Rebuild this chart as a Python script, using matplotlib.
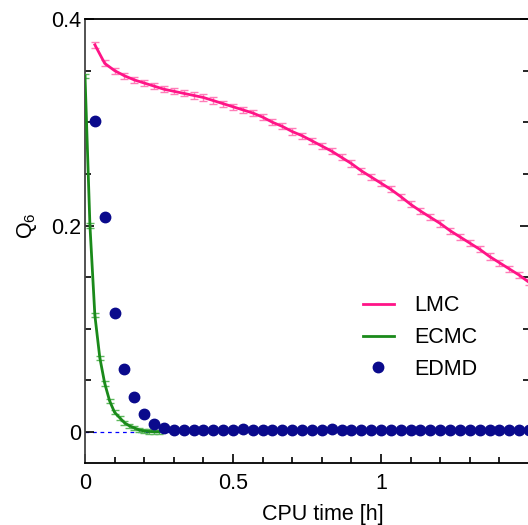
import numpy as np
import matplotlib
matplotlib.use('Agg')
import matplotlib.pyplot as plt
from matplotlib.lines import Line2D
from matplotlib.ticker import MultipleLocator

plt.rcParams['font.family'] = ['Liberation Sans', 'DejaVu Sans']
plt.rcParams['mathtext.default'] = 'regular'

# sampling grid: one measurement every 2 minutes (LMC, EDMD), every minute (ECMC)
t_lmc = np.arange(2, 92, 2) / 60
t_edmd = np.arange(2, 92, 2) / 60
t_ecmc = np.arange(0, 16) / 60

q6_lmc = [0.375, 0.357, 0.350, 0.345, 0.341, 0.338, 0.335, 0.332, 0.330, 0.328,
          0.326, 0.324, 0.321, 0.318, 0.315, 0.312, 0.309, 0.305, 0.300, 0.296,
          0.291, 0.287, 0.282, 0.277, 0.272, 0.266, 0.260, 0.253, 0.247, 0.241,
          0.235, 0.228, 0.2205, 0.214, 0.208, 0.202, 0.195, 0.189, 0.183, 0.177,
          0.170, 0.164, 0.158, 0.152, 0.145]
err_lmc = [0.003] * len(q6_lmc)

q6_ecmc = [0.345, 0.200, 0.113, 0.072, 0.047, 0.030, 0.019, 0.014, 0.009, 0.006,
           0.004, 0.002, 0.001, 0.0005, 0.0003, 0.0002]
err_ecmc = [0.002] * len(q6_ecmc)

q6_edmd = [0.301, 0.208, 0.115, 0.061, 0.034, 0.017, 0.008, 0.004, 0.002, 0.002,
           0.002, 0.002, 0.002, 0.002, 0.002, 0.003, 0.002, 0.002, 0.002, 0.002,
           0.002, 0.002, 0.002, 0.002, 0.003, 0.002, 0.002, 0.002, 0.002, 0.002,
           0.002, 0.002, 0.002, 0.002, 0.002, 0.002, 0.002, 0.002, 0.002, 0.002,
           0.002, 0.002, 0.002, 0.002, 0.002]

pink = '#ff1487'
green = '#1a8a1a'
navy = '#0a0a8c'

fig = plt.figure(figsize=(5.28, 5.25), dpi=100)
ax = fig.add_axes([85 / 528, 62 / 525, 444 / 528, 444 / 525])

ax.axhline(0, color='blue', lw=0.9, ls=(0, (3, 3)), zorder=1)

ax.errorbar(t_lmc, q6_lmc, yerr=err_lmc, color=pink, lw=2, ecolor='#ff7db8',
            elinewidth=1, capsize=3, capthick=1, zorder=3)
ax.errorbar(t_ecmc, q6_ecmc, yerr=err_ecmc, color=green, lw=2, ecolor='#5cb85c',
            elinewidth=1, capsize=3, capthick=1, zorder=3)
ax.plot(t_edmd, q6_edmd, 'o', color=navy, ms=7.5, zorder=4, clip_on=False)

ax.set_xlim(0, 1.5)
ax.set_ylim(-0.03, 0.4)
ax.xaxis.set_minor_locator(MultipleLocator(0.1))
ax.yaxis.set_minor_locator(MultipleLocator(0.05))
ax.set_xticks([0, 0.5, 1, 1.5])
ax.set_xticklabels(['0', '0.5', '1', ''], fontsize=15.5)
ax.set_yticks([0, 0.2, 0.4])
ax.set_yticklabels(['0', '0.2', '0.4'], fontsize=15.5)

ax.tick_params(which='both', direction='in', right=True, top=False,
               width=1.2, colors='black')
ax.tick_params(which='major', length=6.5)
ax.tick_params(which='minor', length=4)
ax.tick_params(axis='x', pad=7)
ax.tick_params(axis='y', pad=3)

ax.spines['right'].set_visible(False)
for s in ('left', 'top', 'bottom'):
    ax.spines[s].set_linewidth(1.3)
ax.spines['left'].set_color('#444444')

ax.set_xlabel('CPU time [h]', fontsize=15.5)
ax.xaxis.set_label_coords((323 - 85) / 444, -(504 - 463) / 444)
ax.set_ylabel('Q$_6$', fontsize=15.5)
ax.yaxis.set_label_coords(-(85 - 39) / 444, (463 - 226) / 444)

handles = [Line2D([], [], color=pink, lw=2),
           Line2D([], [], color=green, lw=2),
           Line2D([], [], ls='', marker='o', color=navy, ms=7.5)]
ax.legend(handles, ['LMC', 'ECMC', 'EDMD'], loc='upper left', frameon=False,
          fontsize=15.5, bbox_to_anchor=(344 / 528, 1 - 276 / 525),
          bbox_transform=fig.transFigure, handlelength=1.4,
          handletextpad=0.95, labelspacing=0.5)

fig.savefig('out.png', dpi=100)
